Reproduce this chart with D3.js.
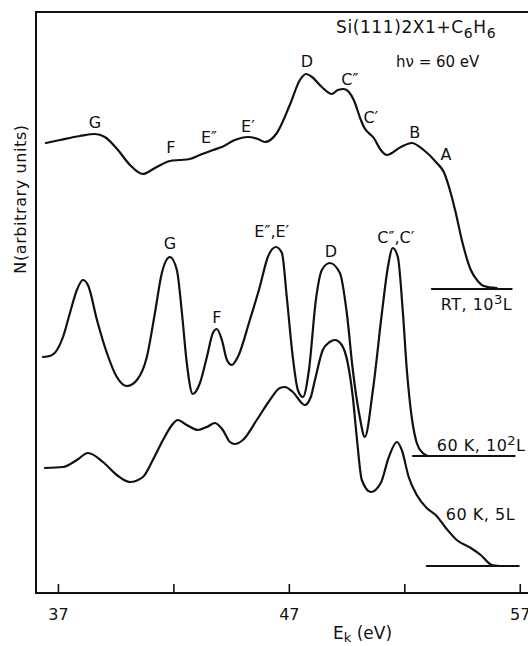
<!DOCTYPE html>
<html>
<head>
<meta charset="utf-8">
<script src="https://cdn.jsdelivr.net/npm/d3@7"></script>
<style>
  body { margin: 0; background: #fff; }
  svg text { font-family: "DejaVu Sans", sans-serif; fill: #111; }
</style>
</head>
<body>
<script>
const WIDTH = 528;
const HEIGHT = 646;
const STROKE = 2.2;
const AXIS_STROKE = 2;

// kinetic energy (eV) / intensity (arbitrary units)
const rtEnergy = [36.48, 37.09, 37.95, 38.60, 39.03, 39.60, 40.12, 40.68, 41.20, 41.85, 42.28, 42.71, 43.15, 43.71, 44.10, 44.66, 45.23, 45.66, 45.96, 46.48, 47.04, 47.48, 47.74, 48.00, 48.43, 48.86, 49.12, 49.38, 49.60, 49.81, 50.12, 50.25, 50.68, 50.98, 51.24, 51.85, 52.32, 52.84, 53.41, 53.71, 54.01, 54.23, 54.49, 54.88, 55.18, 55.44, 56.00];
const rtCounts = [450, 453, 457, 459, 456, 443, 428, 419, 425, 432, 433, 434, 438, 443, 446, 453, 456, 454, 451, 460, 488, 513, 519, 516, 506, 499, 503, 504, 501, 493, 473, 466, 455, 443, 438, 446, 450, 443, 430, 421, 400, 380, 353, 323, 312, 307, 305];

const midEnergy = [36.35, 36.65, 36.96, 37.22, 37.52, 37.82, 38.08, 38.30, 38.69, 39.12, 39.55, 39.99, 40.42, 40.85, 41.20, 41.50, 41.85, 42.15, 42.37, 42.58, 42.84, 43.15, 43.45, 43.71, 43.88, 44.10, 44.32, 44.53, 44.79, 45.31, 45.74, 46.09, 46.44, 46.70, 46.91, 47.17, 47.39, 47.61, 47.87, 48.17, 48.43, 48.77, 49.21, 49.51, 49.77, 50.07, 50.29, 50.64, 51.03, 51.29, 51.50, 51.72, 51.94, 52.11, 52.32, 52.54, 52.80, 53.02];
const midCounts = [236, 237, 243, 256, 280, 303, 313, 308, 273, 240, 216, 207, 213, 236, 280, 320, 336, 323, 280, 230, 199, 210, 236, 260, 264, 253, 233, 228, 236, 273, 306, 336, 346, 340, 296, 236, 203, 196, 223, 293, 323, 330, 320, 280, 223, 176, 156, 203, 280, 326, 345, 336, 280, 223, 176, 150, 140, 137];

const lowEnergy = [36.44, 37.22, 37.82, 38.30, 38.95, 39.55, 40.12, 40.68, 41.11, 41.55, 41.94, 42.19, 42.58, 43.06, 43.45, 43.80, 44.14, 44.45, 44.66, 45.01, 45.61, 46.18, 46.61, 46.83, 47.17, 47.69, 47.95, 48.13, 48.47, 48.77, 48.99, 49.29, 49.55, 49.77, 49.94, 50.16, 50.55, 50.98, 51.33, 51.68, 51.89, 52.19, 52.54, 52.97, 53.36, 53.80, 54.27, 54.88, 55.31, 55.79, 56.13];
const lowCounts = [125, 126, 133, 140, 131, 118, 111, 116, 133, 153, 168, 173, 168, 163, 166, 170, 163, 151, 149, 153, 173, 193, 205, 206, 201, 188, 196, 213, 243, 251, 253, 248, 230, 196, 156, 113, 101, 110, 136, 151, 143, 116, 98, 85, 78, 65, 53, 45, 38, 28, 27];

// zero lines drawn under each spectrum: [start eV, end eV, level]
const baselines = [
  [53.19, 56.65, 304],
  [52.37, 56.78, 137],
  [52.97, 56.96, 27],
];

// spectrum names: text, superscript, trailing text, eV, level
const spectrumLabels = [
  ["RT, 10", "3", "L", 53.58, 283],
  ["60 K, 10", "2", "L", 53.41, 142],
  ["60 K, 5L", "", "", 53.80, 73],
];

// peak letters: text, eV, level
const peakLabels = [
  ["G", 38.60, 465], ["F", 41.89, 440], ["E″", 43.54, 450], ["E′", 45.23, 461],
  ["D", 47.78, 526], ["C″", 49.64, 508], ["C′", 50.55, 470], ["B", 52.45, 455], ["A", 53.80, 433],
  ["G", 41.85, 344], ["F", 43.88, 270], ["E″,E′", 46.26, 356], ["D", 48.82, 336], ["C″,C′", 51.63, 350],
];

const xTicks = [37, 42, 47, 52, 57];
const xTickLabels = ["37", "", "47", "", "57"];

const svg = d3.select("body").append("svg")
  .attr("width", WIDTH)
  .attr("height", HEIGHT);

const x = d3.scaleLinear().domain([36.05, 57.4]).range([36, 529]);
const y = d3.scaleLinear().domain([0, 581]).range([593, 12]);

const line = d3.line()
  .x((d) => x(d[0]))
  .y((d) => y(d[1]))
  .curve(d3.curveMonotoneX);

const zip = (a, b) => a.map((v, i) => [v, b[i]]);

// frame: top, left, bottom
svg.append("path")
  .attr("fill", "none")
  .attr("stroke", "#111")
  .attr("stroke-width", AXIS_STROKE)
  .attr("d", `M${x.range()[1]},${y(581)}H${x(36.05)}V${y(0)}H${x.range()[1]}`);

const xAxis = d3.axisBottom(x)
  .tickValues(xTicks)
  .tickSize(-9)
  .tickPadding(16)
  .tickFormat((d, i) => xTickLabels[i]);

const axisG = svg.append("g")
  .attr("transform", `translate(0,${y(0)})`)
  .call(xAxis);
axisG.select(".domain").remove();
axisG.selectAll(".tick line").attr("stroke", "#111").attr("stroke-width", 1.6);
axisG.selectAll(".tick text")
  .attr("font-size", 16)
  .attr("fill", "#111")
  .style("font-family", "DejaVu Sans, sans-serif");

// spectra
const curves = svg.append("g")
  .attr("fill", "none")
  .attr("stroke", "#111")
  .attr("stroke-width", STROKE)
  .attr("stroke-linejoin", "round")
  .attr("stroke-linecap", "round");

[zip(rtEnergy, rtCounts), zip(midEnergy, midCounts), zip(lowEnergy, lowCounts)].forEach((pts) => {
  curves.append("path").attr("d", line(pts));
});

curves.selectAll(".base")
  .data(baselines)
  .enter()
  .append("line")
  .attr("class", "base")
  .attr("stroke-width", 2)
  .attr("x1", (d) => x(d[0]))
  .attr("x2", (d) => x(d[1]))
  .attr("y1", (d) => y(d[2]))
  .attr("y2", (d) => y(d[2]));

// peak letters
svg.append("g")
  .selectAll("text")
  .data(peakLabels)
  .enter()
  .append("text")
  .attr("x", (d) => x(d[1]))
  .attr("y", (d) => y(d[2]))
  .attr("text-anchor", "middle")
  .attr("font-size", 16)
  .text((d) => d[0]);

// spectrum names
const names = svg.append("g")
  .selectAll("text")
  .data(spectrumLabels)
  .enter()
  .append("text")
  .attr("x", (d) => x(d[3]))
  .attr("y", (d) => y(d[4]))
  .attr("font-size", 16)
  .attr("letter-spacing", 0.5);
names.append("tspan").text((d) => d[0]);
names.append("tspan")
  .attr("dy", -6)
  .attr("font-size", 13)
  .text((d) => d[1]);
names.append("tspan")
  .attr("dy", (d) => (d[1] ? 6 : 0))
  .text((d) => d[2]);

// title block
const title = svg.append("text")
  .attr("x", 336)
  .attr("y", 33)
  .attr("font-size", 17)
  .attr("letter-spacing", 0.6);
title.append("tspan").text("Si(111)2X1+C");
title.append("tspan").attr("dy", 5).attr("font-size", 14).text("6");
title.append("tspan").attr("dy", -5).text("H");
title.append("tspan").attr("dy", 5).attr("font-size", 14).text("6");

svg.append("text")
  .attr("x", 396)
  .attr("y", 67)
  .attr("font-size", 15)
  .text("hν = 60 eV");

// axis titles
const xTitle = svg.append("text")
  .attr("x", 333)
  .attr("y", 639)
  .attr("font-size", 17);
xTitle.append("tspan").text("E");
xTitle.append("tspan").attr("dy", 3).attr("font-size", 13).text("k");
xTitle.append("tspan").attr("dy", -3).text(" (eV)");

svg.append("text")
  .attr("transform", "translate(26,199) rotate(-90)")
  .attr("text-anchor", "middle")
  .attr("font-size", 16)
  .attr("letter-spacing", 0.6)
  .text("N(arbitrary units)");
</script>
</body>
</html>
